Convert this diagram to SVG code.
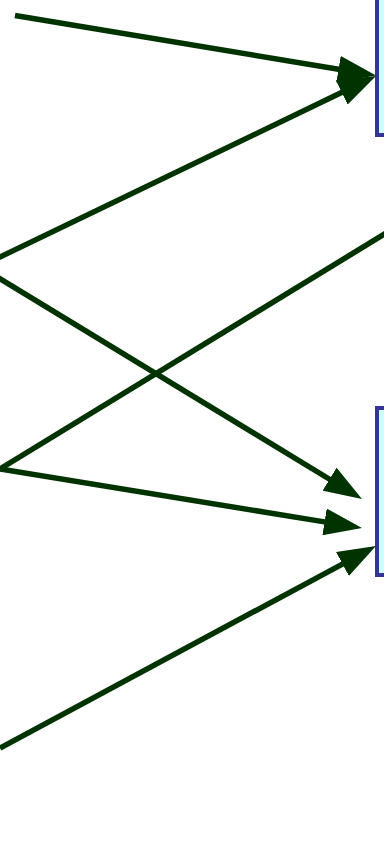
<svg xmlns="http://www.w3.org/2000/svg" width="384" height="864" viewBox="0 0 384 864">
<style>
.node{fill:#ccffff;stroke:#333399;stroke-width:4}
.edge{fill:none;stroke:#003300;stroke-width:5.5}
</style>
<defs>
<marker id="ah" markerUnits="userSpaceOnUse" viewBox="0 0 38 27" markerWidth="38" markerHeight="27" refX="1.5" refY="13.5" orient="auto">
<path d="M0,0 L38,13.5 L0,27 z" fill="#003300"/>
</marker>
</defs>
<rect width="384" height="864" fill="#ffffff"/>
<g id="node-top"><rect class="node" x="377" y="-50" width="60" height="185"/></g>
<g id="node-bottom"><rect class="node" x="377" y="408" width="60" height="167"/></g>
<g id="connectors">
<line class="edge" x1="15" y1="15.5" x2="340" y2="69.5" marker-end="url(#ah)"/>
<line class="edge" x1="-20" y1="266.6" x2="343.1" y2="91.8" marker-end="url(#ah)"/>
<line class="edge" x1="-20" y1="266.6" x2="330.8" y2="480" marker-end="url(#ah)"/>
<line class="edge" x1="0" y1="469" x2="326" y2="522.1" marker-end="url(#ah)"/>
<line class="edge" x1="0" y1="748" x2="343.8" y2="563.3" marker-end="url(#ah)"/>
<line class="edge" x1="0" y1="469" x2="400" y2="224.5"/>
</g>
</svg>
